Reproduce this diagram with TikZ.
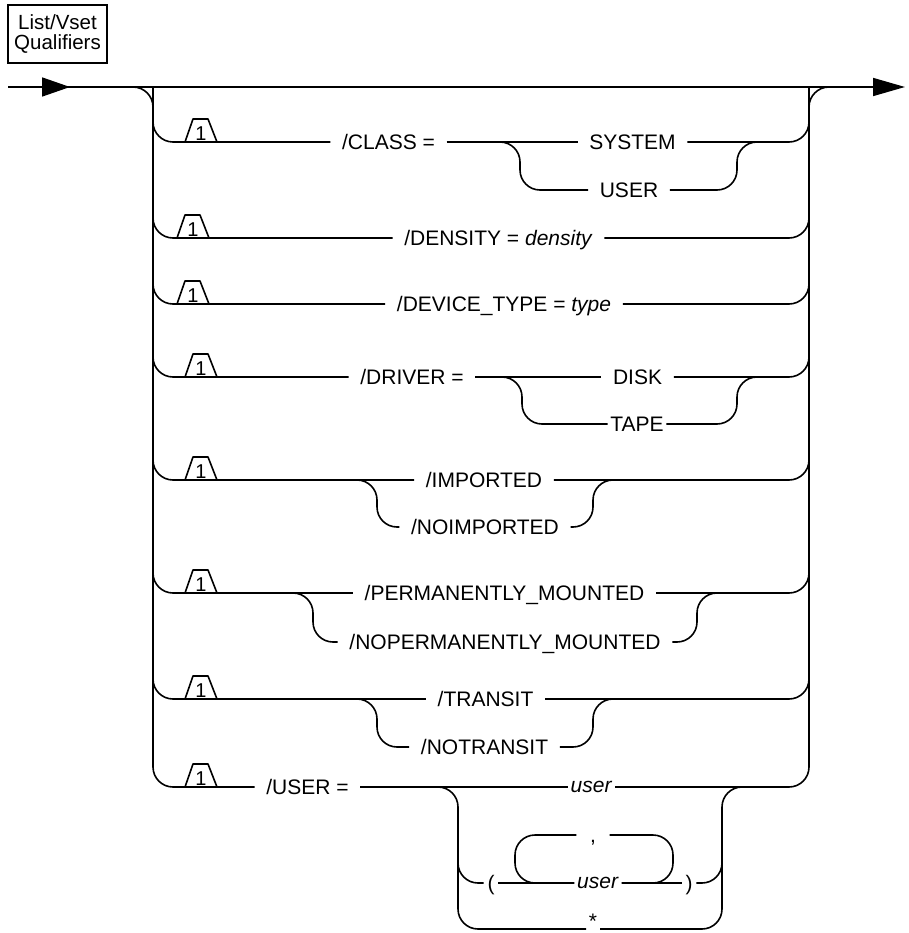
\documentclass[tikz,border=0pt]{standalone}
\usepackage{fontspec}
\setmainfont{Liberation Sans}
\usetikzlibrary{arrows.meta}
\begin{document}
\begin{tikzpicture}[x=1pt,y=-1pt,
  line width=1.6pt,
  rc/.style={rounded corners=20pt},
  txt/.style={font=\fontsize{21}{25}\selectfont, text height=15pt, text depth=0pt,
              inner ysep=0pt, inner xsep=11pt},
  tight/.style={txt, inner xsep=2pt},
  low/.style={text height=11pt},
  badge/.pic={
    \draw[line join=round] (-16,0) -- (-8,-23) -- (7,-23) -- (16,0);
    \node[font=\fontsize{20}{20}\selectfont, inner sep=0pt, anchor=base] (-n) at (0,-1.5) {1};
  }]
\useasboundingbox (0,0) rectangle (908,933);

% title box
\node[draw, line width=1.8pt, minimum width=99pt, minimum height=58pt, inner sep=0pt,
      align=center, font=\fontsize{20.5}{20}\selectfont] (title) at (57.5,34) {List/Vset\\Qualifiers};

% main line and bus junctions
\coordinate (start) at (8,87);
\coordinate (finish) at (905,87);
\coordinate (tipL) at (70,87);
\coordinate (ltop) at (153,87);
\coordinate (rtop) at (809,87);
\coordinate (rfar) at (850,87);
\coordinate (lmid) at (153,400);
\coordinate (rmid) at (809,400);

\draw[-{Triangle[length=32pt,width=18pt]}] (start) -- (finish);
\draw[-{Triangle[length=28pt,width=19pt]}] (start) -- (tipL);

% /CLASS
\pic (b1) at (201,142) {badge};
\node[txt] (cls) at (388.5,142) {/CLASS =};
\node[txt] (sys) at (632.5,142) {SYSTEM};
\node[txt] (usr) at (629,190) {USER};
\coordinate (cs) at (500,142);
\coordinate (cj) at (757,142);
\draw[rc] (ltop) |- (cls.west);
\draw (cls.east) -- (sys.west);
\draw[rc] (cs) -- ++(20,0) -- ++(0,48) -- (usr.west);
\draw[rc] (usr.east) -| ([xshift=-20pt]cj) -- (cj);
\draw[rc] (sys.east) -| (rtop);

% /DENSITY
\pic (b2) at (193,238) {badge};
\node[txt] (den) at (498.5,238) {/DENSITY = \textit{density}};
\draw[rc] (ltop) |- (den.west);
\draw[rc] (den.east) -| (rtop);

% /DEVICE_TYPE
\pic (b3) at (193,304) {badge};
\node[txt] (dev) at (504,304) {/DEVICE\_TYPE = \textit{type}};
\draw[rc] (ltop) |- (dev.west);
\draw[rc] (dev.east) -| (rtop);

% /DRIVER
\pic (b4) at (201,377) {badge};
\node[txt] (drv) at (412,377) {/DRIVER =};
\node[txt] (dsk) at (637.5,377) {DISK};
\node[tight] (tap) at (637,424) {TAPE};
\coordinate (ds) at (502,377);
\coordinate (dj) at (757,377);
\draw[rc] (ltop) |- (drv.west);
\draw (drv.east) -- (dsk.west);
\draw[rc] (ds) -- ++(20,0) -- ++(0,47) -- (tap.west);
\draw[rc] (tap.east) -| ([xshift=-20pt]dj) -- (dj);
\draw[rc] (dsk.east) -| (rtop);

% /IMPORTED
\pic (b5) at (201,480) {badge};
\node[txt] (imp) at (484,480) {/IMPORTED};
\node[txt] (nimp) at (485,527) {/NOIMPORTED};
\coordinate (is) at (357,480);
\coordinate (ij) at (613,480);
\draw[rc] (ltop) |- (imp.west);
\draw[rc] (is) -- ++(20,0) -- ++(0,47) -- (nimp.west);
\draw[rc] (nimp.east) -| ([xshift=-20pt]ij) -- (ij);
\draw[rc] (imp.east) -| (rtop);

% /PERMANENTLY_MOUNTED
\pic (b6) at (201,593) {badge};
\node[txt] (perm) at (504.5,593) {/PERMANENTLY\_MOUNTED};
\node[txt] (nperm) at (505,642) {/NOPERMANENTLY\_MOUNTED};
\coordinate (ps) at (293,593);
\coordinate (pj) at (717,593);
\draw[rc] (ltop) |- (perm.west);
\draw[rc] (ps) -- ++(20,0) -- ++(0,49) -- (nperm.west);
\draw[rc] (nperm.east) -| ([xshift=-20pt]pj) -- (pj);
\draw[rc] (perm.east) -| (rtop);

% /TRANSIT
\pic (b7) at (201,699) {badge};
\node[txt] (tra) at (485.5,699) {/TRANSIT};
\node[txt] (ntra) at (484.5,747) {/NOTRANSIT};
\coordinate (ts) at (357,699);
\coordinate (tj) at (613,699);
\draw[rc] (ltop) |- (tra.west);
\draw[rc] (ts) -- ++(20,0) -- ++(0,48) -- (ntra.west);
\draw[rc] (ntra.east) -| ([xshift=-20pt]tj) -- (tj);
\draw[rc] (tra.east) -| (rtop);

% /USER (last branch closes both buses)
\pic (b8) at (201,787) {badge};
\node[txt] (quser) at (307.5,787) {/USER =};
\node[tight, low] (uval) at (591.5,787) {\textit{user}};
\draw[rc] (start) -| (lmid) |- (quser.west);
\draw (quser.east) -- (uval.west);
\draw[rc] (rfar) -| (rmid) |- (uval.east);

% user alternatives
\coordinate (gl1) at (425,787);
\coordinate (gl2) at (458,850);
\coordinate (gl3) at (458,810);
\coordinate (gr1) at (760,787);
\coordinate (gr2) at (722,850);
\coordinate (gr3) at (722,810);
\node[txt, inner xsep=3pt] (lp) at (491,883) {(};
\node[tight, low] (iuser) at (598,883) {\textit{user}};
\node[txt, inner xsep=3pt] (rp) at (689,883) {)};
\node[txt, inner xsep=13pt] (cm) at (593,835) {,};
% the asterisk sits just above its line
\node[txt, inner xsep=0pt, anchor=base] (st) at (593,928.5) {*};
\coordinate (stl) at (586,929);
\coordinate (str) at (600,929);
\draw[rc] (gl1) -| (gl2) |- (stl);
\draw[rc] (gl3) |- (lp.west);
\draw (lp.east) -- (iuser.west);
\draw (iuser.east) -- (rp.west);
\draw[rc] (rp.east) -| (gr3);
\draw[rc] (gr1) -| (gr2) |- (str);

% repeat loop with comma separator
\coordinate (llb) at (515,883);
\coordinate (lrb) at (673,883);
\draw[rc] (cm.west) -| (llb) -- (iuser.west);
\draw[rc] (cm.east) -| (lrb) -- (iuser.east);
\end{tikzpicture}
\end{document}
